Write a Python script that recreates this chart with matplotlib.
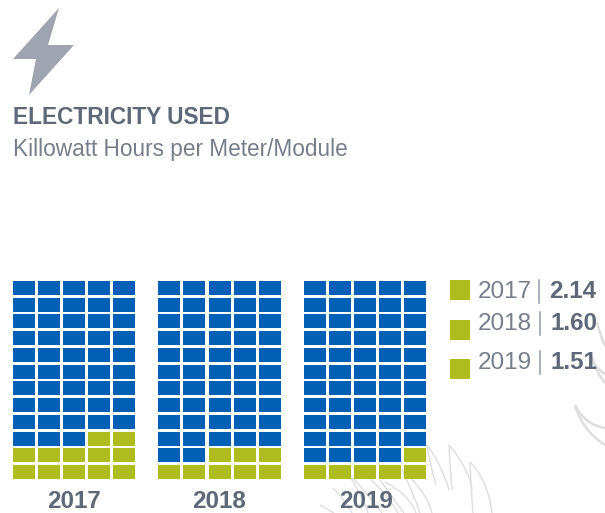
import matplotlib
matplotlib.use("Agg")
import matplotlib.pyplot as plt
from matplotlib.patches import PathPatch, Polygon
from matplotlib.path import Path

plt.rcParams['font.family'] = ['Liberation Sans', 'DejaVu Sans']

# chart values
years = ['2017', '2018', '2019']
values = ['2.14', '1.60', '1.51']
green_cells = [12, 8, 6]  # green cells out of 60, counted off the picture

BLUE = '#0060b6'
GREEN = '#afbc1e'
DARK = '#5f6878'
LIGHT = '#767e8c'
SEP = '#9298a5'
ICON = '#a0a3b0'
FEATHER = '#dedede'

n_rows = 12
n_cols = 5
cell_w = 22
cell_h = 14
col_step = [25, 25.25, 25]
row_step = 16.75
bottom_y = 479
group_x = [13, 158, 304]
label_x = [74.5, 219.5, 366]
legend_y = [280, 320, 359]
legend_base = [298, 330, 369]
legend_sep_x = [539, 539.5, 539.5]
legend_val_x = [549, 551, 551]

# faint feather drawing behind the chart, (start, control, end) in pixels
feather_strokes = [
    ((449, 445), (470, 470), (472, 490)), ((449, 445), (450, 470), (452, 490)),
    ((470, 462), (488, 480), (492, 513)), ((470, 462), (471, 490), (473, 513)),
    ((427, 445), (442, 465), (449, 490)), ((427, 445), (430, 465), (436, 485)),
    ((402, 470), (426, 490), (432, 513)), ((402, 470), (412, 490), (420, 513)),
    ((385, 482), (410, 495), (416, 513)), ((360, 470), (385, 490), (398, 513)),
    ((345, 470), (365, 490), (382, 513)), ((333, 488), (345, 500), (352, 513)),
    ((350, 477), (362, 495), (368, 513)), ((380, 480), (392, 497), (404, 513)),
    ((320, 505), (328, 510), (334, 513)),
]
feather_wide = [
    ((575, 405), (582, 430), (605, 445)), ((575, 405), (585, 425), (605, 428)),
    ((592, 357), (596, 372), (605, 383)), ((597, 322), (600, 335), (605, 346)),
    ((590, 358), (598, 370), (605, 374)),
]

fig = plt.figure(figsize=(6.05, 5.13), dpi=100)
ax = fig.add_axes([0, 0, 1, 1])
ax.set_xlim(0, 605)
ax.set_ylim(513, 0)
ax.axis('off')

for strokes, width in [(feather_strokes, 1.0), (feather_wide, 1.8)]:
    for start, ctrl, end in strokes:
        stroke = Path([start, ctrl, end], [Path.MOVETO, Path.CURVE3, Path.CURVE3])
        ax.add_patch(PathPatch(stroke, fc='none', ec=FEATHER, lw=width, zorder=1))

# lightning icon
ax.add_patch(Polygon([(59, 8), (13, 59), (36, 59), (29, 95), (74, 45), (48, 45)],
                     closed=True, fc=ICON, ec='none', zorder=2))

ax.text(13, 124, 'ELECTRICITY USED', fontsize=16.3, fontweight='bold', color=DARK,
        ha='left', va='baseline', zorder=4)
ax.text(13, 156, 'Killowatt Hours per Meter/Module', fontsize=16.3, color=LIGHT,
        ha='left', va='baseline', zorder=4)

# waffle grids, filled from the bottom right
for g, year in enumerate(years):
    for row in range(n_rows):
        for col in range(n_cols):
            idx = row * n_cols + (n_cols - 1 - col)
            color = GREEN if idx < green_cells[g] else BLUE
            ax.bar(group_x[g] + col * col_step[g], cell_h,
                   bottom=bottom_y - cell_h - row * row_step,
                   width=cell_w, align='edge', color=color, lw=0, zorder=3)
    ax.text(label_x[g], 508, year, fontsize=17.5, fontweight='bold', color=DARK,
            ha='center', va='baseline', zorder=4)

# legend
for i, year in enumerate(years):
    ax.bar(450, 20, bottom=legend_y[i], width=20, align='edge', color=GREEN, lw=0, zorder=3)
    base = legend_base[i]
    ax.text(478, base, year, fontsize=17.5, color=LIGHT, ha='left', va='baseline', zorder=4)
    ax.plot([legend_sep_x[i]] * 2, [base - 18, base + 5], color=SEP, lw=1.1, zorder=4)
    ax.text(legend_val_x[i], base, values[i], fontsize=17.4, fontweight='bold', color=DARK,
            ha='left', va='baseline', zorder=4)

fig.savefig('out.png', dpi=100)
